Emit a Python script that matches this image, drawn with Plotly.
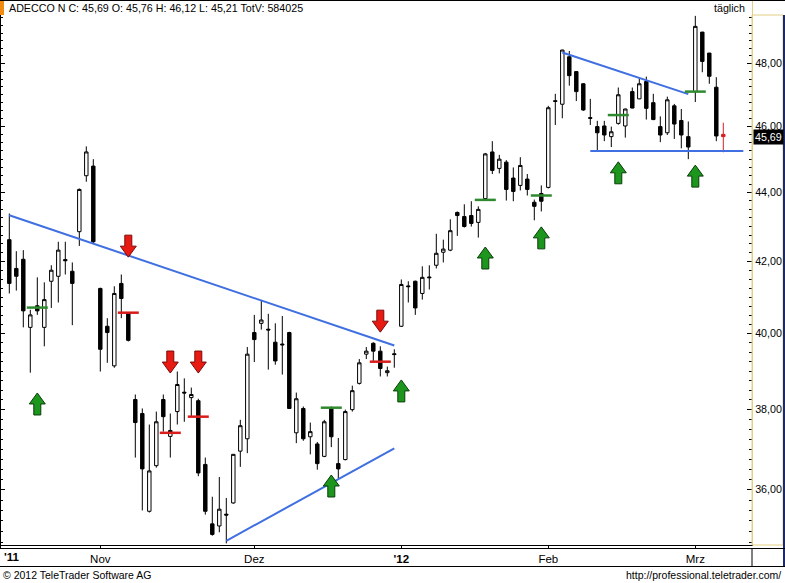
import math
import pandas as pd
import plotly.graph_objects as go

# ---------------- data ----------------
HOLIDAYS = ["2011-12-26", "2012-01-02"]
dates = [d.strftime("%Y-%m-%d") for d in pd.bdate_range("2011-10-13", "2012-03-07")
         if d.strftime("%Y-%m-%d") not in HOLIDAYS]

open_ = [42.62, 41.80, 42.06, 40.17, 40.76, 40.17, 41.44, 41.58, 42.05, 41.72,
         42.85, 44.50, 44.79, 41.24, 40.20, 39.14, 41.38, 40.56, 38.26, 37.90,
         35.48, 36.59, 38.26, 37.32, 37.95, 38.45, 38.31, 38.23, 36.62, 35.18,
         35.13, 35.41, 35.68, 36.95, 37.26, 40.03, 40.28, 40.12, 39.77, 39.72,
         40.03, 37.41, 38.03, 37.31, 37.13, 36.82, 38.05, 36.64, 36.74, 38.00,
         38.68, 39.45, 39.74, 39.53, 38.96, 39.46, 40.20, 41.31, 41.44, 41.10,
         41.56, 41.89, 42.26, 42.32, 43.41, 43.29, 43.32, 43.12, 43.82, 45.22,
         44.72, 44.91, 44.43, 44.21, 44.40, 43.71, 43.97, 44.15, 46.81, 46.70,
         48.22, 47.74, 47.35, 46.28, 46.00, 46.02, 45.69, 46.10, 46.02, 47.10,
         46.87, 47.42, 46.75, 46.00, 45.81, 46.65, 46.19, 45.69, 47.10, 49.03,
         48.34, 47.24, 45.76]
high = [43.38, 42.29, 42.32, 40.65, 41.55, 41.41, 41.89, 42.56, 42.56, 41.97,
        44.12, 45.39, 45.00, 41.26, 40.42, 41.30, 41.63, 40.58, 38.39, 38.03,
        37.62, 37.95, 38.39, 37.90, 38.99, 38.81, 38.57, 38.28, 36.79, 35.83,
        36.31, 35.80, 36.88, 37.74, 39.64, 40.51, 40.92, 40.54, 40.28, 40.48,
        40.05, 38.44, 38.08, 37.67, 37.18, 37.74, 38.08, 37.28, 38.00, 38.62,
        39.32, 39.64, 39.77, 39.66, 39.12, 39.58, 41.49, 41.44, 41.46, 41.86,
        41.89, 42.79, 42.62, 43.21, 43.44, 43.65, 43.74, 43.59, 45.19, 45.55,
        45.13, 44.97, 44.75, 45.06, 44.55, 43.79, 44.21, 46.65, 47.03, 48.45,
        48.41, 47.76, 47.37, 46.87, 46.18, 46.18, 46.00, 47.23, 46.56, 47.23,
        47.53, 47.58, 47.03, 46.32, 46.94, 46.71, 46.55, 46.16, 49.57, 49.04,
        48.35, 47.56, 46.12]
low = [41.10, 41.18, 40.17, 38.96, 40.51, 39.66, 40.70, 40.85, 41.63, 40.23,
       42.44, 44.32, 42.50, 38.99, 39.22, 39.09, 40.42, 39.79, 36.79, 35.50,
       35.45, 36.54, 37.44, 36.79, 37.62, 37.69, 37.82, 36.33, 35.40, 34.90,
       34.98, 34.72, 35.66, 36.56, 36.90, 39.24, 40.11, 39.04, 39.17, 38.91,
       38.02, 37.15, 37.21, 36.87, 36.49, 36.80, 37.05, 36.28, 36.72, 37.95,
       38.65, 39.32, 39.27, 38.86, 38.86, 39.09, 40.18, 40.85, 40.51, 40.93,
       41.21, 41.80, 41.97, 42.29, 42.73, 42.97, 43.00, 42.68, 43.76, 44.55,
       44.57, 43.76, 43.74, 44.06, 43.91, 43.18, 43.44, 44.12, 46.05, 46.26,
       47.29, 46.80, 46.49, 46.05, 45.28, 45.55, 45.37, 46.06, 45.66, 46.57,
       46.86, 46.22, 46.20, 45.52, 45.74, 45.62, 45.33, 45.00, 46.77, 47.72,
       47.35, 45.55, 45.21]
close = [41.38, 41.58, 40.62, 40.51, 40.62, 40.93, 41.75, 42.32, 42.02, 41.38,
         44.09, 45.22, 42.56, 39.58, 40.03, 41.10, 40.96, 39.82, 37.67, 36.51,
         36.46, 37.69, 37.82, 37.47, 38.65, 38.43, 38.39, 36.41, 35.48, 34.93,
         35.53, 35.39, 36.87, 37.59, 39.45, 39.84, 40.37, 40.10, 39.27, 39.70,
         38.03, 38.28, 37.26, 37.44, 36.64, 37.69, 37.31, 36.51, 37.95, 38.49,
         39.22, 39.53, 39.53, 39.07, 39.01, 39.44, 41.35, 41.29, 40.70, 41.55,
         41.54, 42.23, 42.35, 42.88, 43.32, 43.00, 43.09, 43.50, 45.16, 44.66,
         45.00, 44.09, 44.03, 44.81, 44.09, 43.59, 43.74, 46.59, 46.79, 48.44,
         47.61, 47.10, 46.52, 46.26, 45.81, 45.74, 45.84, 47.00, 46.55, 46.58,
         47.35, 46.57, 46.22, 45.74, 46.84, 46.08, 45.74, 45.37, 49.22, 48.07,
         47.59, 45.71, 45.69]
total_volume = 584025

# trend lines (trading-day index, price)
down1_idx, down1_px = [0, 55], [43.33, 39.68]
up1_idx, up1_px = [31, 55], [34.78, 37.02]
down2_idx, down2_px = [79, 97], [48.36, 47.02]
support_idx, support_px = [83, 104.86], [45.25, 45.25]

# signals
buy_arrow_idx = [4, 46, 56, 68, 76, 87, 98]
buy_arrow_tip = [38.43, 36.36, 38.77, 42.41, 42.99, 44.92, 44.82]
sell_arrow_idx = [17, 23, 27, 53]
sell_arrow_tip = [42.12, 38.95, 38.95, 40.04]
buy_level_idx = [4, 46, 68, 76, 87, 98]
buy_level_px = [40.71, 38.05, 43.78, 43.91, 46.36, 47.10]
sell_level_idx = [17, 23, 27, 53]
sell_level_px = [40.57, 37.41, 37.82, 39.25]

month_start = ["2011-11-01", "2011-12-01", "2012-01-03", "2012-02-01", "2012-03-01"]
month_labels = ["Nov", "Dez", "<b>'12</b>", "Feb", "Mrz"]
ytick_vals = [36, 38, 40, 42, 44, 46, 48]
ytick_text = ["36,00", "38,00", "40,00", "42,00", "44,00", "46,00", "48,00"]

# ---------------- figure ----------------
FONT = "Liberation Sans"
idx = list(range(len(dates)))

fig = go.Figure()
fig.add_trace(go.Candlestick(
    x=idx[:-1], open=open_[:-1], high=high[:-1], low=low[:-1], close=close[:-1],
    increasing=dict(fillcolor="white", line=dict(color="black", width=1)),
    decreasing=dict(fillcolor="black", line=dict(color="black", width=1)),
    whiskerwidth=0, hoverinfo="skip", showlegend=False))
fig.add_trace(go.Candlestick(
    x=idx[-1:], open=open_[-1:], high=high[-1:], low=low[-1:], close=close[-1:],
    increasing=dict(fillcolor="#d62020", line=dict(color="#d62020", width=1)),
    decreasing=dict(fillcolor="#d62020", line=dict(color="#d62020", width=1)),
    whiskerwidth=0, hoverinfo="skip", showlegend=False))

BLUE = "#3f6fe0"
for xs, ys in [(down1_idx, down1_px), (up1_idx, up1_px), (down2_idx, down2_px),
               (support_idx, support_px)]:
    fig.add_trace(go.Scatter(x=xs, y=ys, mode="lines", line=dict(color=BLUE, width=2),
                             hoverinfo="skip", showlegend=False))

fig.add_trace(go.Scatter(x=buy_level_idx, y=buy_level_px, mode="markers",
                         marker=dict(symbol="line-ew", size=15,
                                     line=dict(color="#2f8a2f", width=2.5)),
                         hoverinfo="skip", showlegend=False))
fig.add_trace(go.Scatter(x=sell_level_idx, y=sell_level_px, mode="markers",
                         marker=dict(symbol="line-ew", size=15,
                                     line=dict(color="#d81c1c", width=2.5)),
                         hoverinfo="skip", showlegend=False))

W, S, H, HH = 8, 3.5, 22, 11
up_path = f"M0,0 L{W},-{HH} L{S},-{HH} L{S},-{H} L-{S},-{H} L-{S},-{HH} L-{W},-{HH} Z"
down_path = f"M0,0 L{W},{HH} L{S},{HH} L{S},{H} L-{S},{H} L-{S},{HH} L-{W},{HH} Z"
shapes = []
for i, p in zip(buy_arrow_idx, buy_arrow_tip):
    shapes.append(dict(type="path", xref="x", yref="y", xsizemode="pixel", ysizemode="pixel",
                       xanchor=i, yanchor=p, path=up_path,
                       fillcolor="#1c961c", line=dict(color="#0b3d0b", width=1)))
for i, p in zip(sell_arrow_idx, sell_arrow_tip):
    shapes.append(dict(type="path", xref="x", yref="y", xsizemode="pixel", ysizemode="pixel",
                       xanchor=i, yanchor=p, path=down_path,
                       fillcolor="#e81a12", line=dict(color="#7a0a0a", width=1)))

# frame decorations (paper coords: x 1 = 752px, y 0 = 545px)
def py(px):
    return 1 - px / 545.0

def pxx(px):
    return px / 752.0

YEL = "#e2cf84"
NAVY = "#1c2a6a"
shapes += [
    dict(type="line", xref="paper", yref="paper", x0=pxx(0.5), x1=pxx(0.5), y0=py(0), y1=py(548),
         line=dict(color="black", width=1)),
    dict(type="line", xref="paper", yref="paper", x0=0, x1=pxx(785), y0=py(0.5), y1=py(0.5),
         line=dict(color="black", width=1)),
    dict(type="rect", xref="paper", yref="paper", x0=1, x1=pxx(783), y0=py(545), y1=py(15),
         line=dict(color=YEL, width=1), fillcolor="rgba(0,0,0,0)"),
    dict(type="line", xref="paper", yref="paper", x0=pxx(784), x1=pxx(784), y0=py(15), y1=py(567),
         line=dict(color=NAVY, width=2)),
    dict(type="line", xref="paper", yref="paper", x0=0, x1=pxx(785), y0=py(548.5), y1=py(548.5),
         line=dict(color="black", width=1)),
    dict(type="line", xref="paper", yref="paper", x0=0, x1=pxx(785), y0=py(566.5), y1=py(566.5),
         line=dict(color="black", width=1)),
    dict(type="line", xref="paper", yref="paper", x0=1, x1=1, y0=py(548), y1=py(566),
         line=dict(color="black", width=1)),
    dict(type="rect", xref="paper", yref="paper", x0=0, x1=pxx(4), y0=py(15), y1=py(1),
         line=dict(width=0), fillcolor="#f08a10"),
]

title_txt = (f"ADECCO N C: {close[-1]:.2f} O: {open_[-1]:.2f} H: {high[-1]:.2f} "
             f"L: {low[-1]:.2f} TotV: {total_volume}").replace(".", ",")
annotations = [
    dict(text=title_txt, xref="paper", yref="paper", x=pxx(7), y=py(8), xanchor="left",
         yanchor="middle", showarrow=False, font=dict(family=FONT, size=10.7, color="black")),
    dict(text="täglich", xref="paper", yref="paper", x=pxx(747), y=py(8), xanchor="right",
         yanchor="middle", showarrow=False, font=dict(family=FONT, size=10.7, color="black")),
    dict(text=f"{close[-1]:.2f}".replace(".", ","), xref="paper", yref="y", x=1, xshift=1,
         y=math.log10(close[-1]), xanchor="left", yanchor="middle", showarrow=False,
         bgcolor="black", borderpad=1, font=dict(family=FONT, size=10.7, color="white")),
    dict(text="<b>'11</b>", xref="paper", yref="paper", x=pxx(2), y=py(557), xanchor="left",
         yanchor="middle", showarrow=False, font=dict(family=FONT, size=11.5, color="black")),
    dict(text="© 2012 TeleTrader Software AG", xref="paper", yref="paper", x=pxx(1),
         y=py(575), xanchor="left", yanchor="middle", showarrow=False,
         font=dict(family=FONT, size=10.5, color="black")),
    dict(text="http://professional.teletrader.com/", xref="paper", yref="paper", x=pxx(783),
         y=py(575), xanchor="right", yanchor="middle", showarrow=False,
         font=dict(family=FONT, size=10.5, color="black")),
]

minor_vals = [round(34.75 + 0.25 * k, 2) for k in range(60)]
minor_vals = [v for v in minor_vals if v <= 49.5 and v not in ytick_vals]

fig.update_layout(
    width=785, height=583,
    margin=dict(l=0, r=33, t=0, b=38),
    paper_bgcolor="white", plot_bgcolor="white",
    showlegend=False, hovermode=False,
    shapes=shapes, annotations=annotations,
    xaxis=dict(type="linear", range=[-1.329, 106.1], rangeslider=dict(visible=False),
               tickvals=[dates.index(d) for d in month_start], ticktext=month_labels,
               ticks="outside", ticklen=3, tickcolor="black", showgrid=False, zeroline=False,
               showline=True, linecolor="black", linewidth=1,
               tickfont=dict(family=FONT, size=11.5, color="black")),
    yaxis=dict(type="log", side="right", range=[1.540098, 1.699878],
               tickvals=ytick_vals, ticktext=ytick_text, ticks="inside", ticklen=5,
               tickcolor="black", showgrid=False, zeroline=False, showline=True,
               linecolor=YEL, mirror="ticks",
               minor=dict(tickvals=minor_vals, ticks="inside", ticklen=3, tickcolor="black"),
               tickfont=dict(family=FONT, size=10.7, color="black")),
)

fig.write_html("out.html")
